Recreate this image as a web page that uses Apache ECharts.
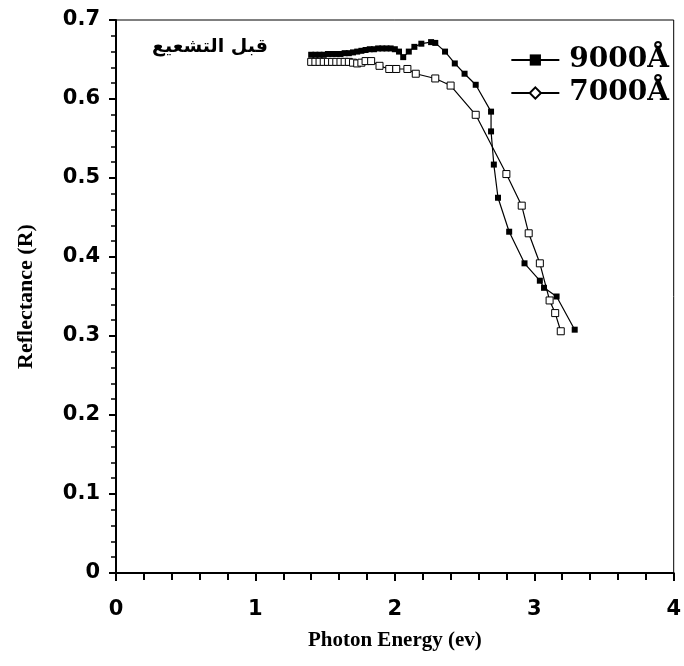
<!DOCTYPE html>
<html>
<head>
<meta charset="utf-8">
<script src="https://cdn.jsdelivr.net/npm/echarts@6/dist/echarts.min.js"></script>
<style>
  html, body { margin: 0; padding: 0; background: #fff; }
  #chart { width: 684px; height: 666px; }
</style>
</head>
<body>
<div id="chart"></div>
<script>
// values (photon energy in eV, reflectance R)
const E9000 = [1.40, 1.43, 1.46, 1.49, 1.52, 1.55, 1.58, 1.61, 1.64, 1.67, 1.70, 1.73,
  1.76, 1.79, 1.82, 1.85, 1.88, 1.91, 1.94, 1.97, 2.00, 2.03, 2.06, 2.10, 2.14, 2.19,
  2.26, 2.29, 2.36, 2.43, 2.50, 2.58, 2.69, 2.69, 2.71, 2.74, 2.82, 2.93, 3.04, 3.07,
  3.16, 3.29];
const R9000 = [0.656, 0.656, 0.656, 0.656, 0.657, 0.657, 0.657, 0.657, 0.658, 0.658, 0.659, 0.660,
  0.661, 0.662, 0.663, 0.663, 0.664, 0.664, 0.664, 0.664, 0.663, 0.660, 0.653, 0.660, 0.666, 0.670,
  0.672, 0.671, 0.660, 0.645, 0.632, 0.618, 0.584, 0.559, 0.517, 0.475, 0.432, 0.392, 0.370, 0.361,
  0.350, 0.308];

const E7000 = [1.40, 1.43, 1.46, 1.49, 1.52, 1.55, 1.58, 1.61, 1.64, 1.67, 1.70, 1.73,
  1.76, 1.79, 1.83, 1.89, 1.96, 2.01, 2.09, 2.15, 2.29, 2.40, 2.58, 2.80, 2.91, 2.96,
  3.04, 3.11, 3.15, 3.19];
const R7000 = [0.647, 0.647, 0.647, 0.647, 0.647, 0.647, 0.647, 0.647, 0.647, 0.647, 0.646, 0.645,
  0.646, 0.648, 0.648, 0.642, 0.638, 0.638, 0.638, 0.632, 0.626, 0.617, 0.580, 0.505, 0.465, 0.430,
  0.392, 0.345, 0.329, 0.306];

const LEGEND = ["9000\u00C5", "7000\u00C5"];
const NOTE = "قبل التشعيع";

const pairs = (xs, ys) => xs.map((x, i) => [x, ys[i]]);
const SERIF = "'Liberation Serif', 'DejaVu Serif', serif";
const SANS = "'DejaVu Sans', Arial, sans-serif";

const chart = echarts.init(document.getElementById("chart"));
chart.setOption({
  animation: false,
  backgroundColor: "#fff",
  grid: { left: 116, right: 8, top: 20, bottom: 93, show: true, borderColor: "#000", borderWidth: 1 },
  graphic: [{
    type: "text", left: 152, top: 38,
    style: { text: NOTE, font: "bold 19px 'DejaVu Sans', sans-serif", fill: "#000" }
  }],
  legend: {
    orient: "vertical", right: 10, top: 41, itemGap: 5,
    itemWidth: 48, itemHeight: 14,
    data: LEGEND,
    textStyle: { fontFamily: "'DejaVu Serif', serif", fontWeight: "bold", fontSize: 28, color: "#000",
      padding: [0, 0, 0, 5] }
  },
  xAxis: {
    type: "value", min: 0, max: 4, interval: 1,
    name: "Photon Energy (ev)", nameLocation: "middle", nameGap: 57,
    nameTextStyle: { fontFamily: SERIF, fontWeight: "bold", fontSize: 21, color: "#000" },
    axisLine: { lineStyle: { color: "#000", width: 2 } },
    axisTick: { show: true, length: 8, lineStyle: { color: "#000", width: 2 } },
    minorTick: { show: true, splitNumber: 5, length: 7, lineStyle: { color: "#000", width: 2 } },
    axisLabel: { margin: 26, fontFamily: SANS, fontWeight: "bold", fontSize: 21, color: "#000" },
    splitLine: { show: false }
  },
  yAxis: {
    type: "value", min: 0, max: 0.7, interval: 0.1,
    name: "Reflectance (R)", nameLocation: "middle", nameGap: 79,
    nameTextStyle: { fontFamily: SERIF, fontWeight: "bold", fontSize: 22, color: "#000" },
    axisLine: { lineStyle: { color: "#000", width: 2 } },
    axisTick: { show: true, length: 7, lineStyle: { color: "#000", width: 2 } },
    minorTick: { show: true, splitNumber: 5, length: 5, lineStyle: { color: "#000", width: 1.5 } },
    axisLabel: { margin: 16, fontFamily: SANS, fontWeight: "bold", fontSize: 21, color: "#000",
      formatter: (v) => (v === 0 ? "0" : v.toFixed(1)) },
    splitLine: { show: false }
  },
  series: [
    // legend-only entries: the key uses a diamond for 7000Å
    { name: LEGEND[0], type: "line", data: [], symbol: "rect",
      lineStyle: { color: "#000", width: 1.5 }, itemStyle: { color: "#000" } },
    { name: LEGEND[1], type: "line", data: [], symbol: "diamond",
      lineStyle: { color: "#000", width: 1.5 }, itemStyle: { color: "#fff", borderColor: "#000", borderWidth: 1 } },
    { name: LEGEND[0], type: "line", data: pairs(E9000, R9000), symbol: "rect", symbolSize: 6,
      lineStyle: { color: "#000", width: 1.2 }, itemStyle: { color: "#000" } },
    { name: LEGEND[1], type: "line", data: pairs(E7000, R7000), symbol: "rect", symbolSize: 7,
      lineStyle: { color: "#000", width: 1.2 }, itemStyle: { color: "#fff", borderColor: "#000", borderWidth: 1 } }
  ]
});
</script>
</body>
</html>
